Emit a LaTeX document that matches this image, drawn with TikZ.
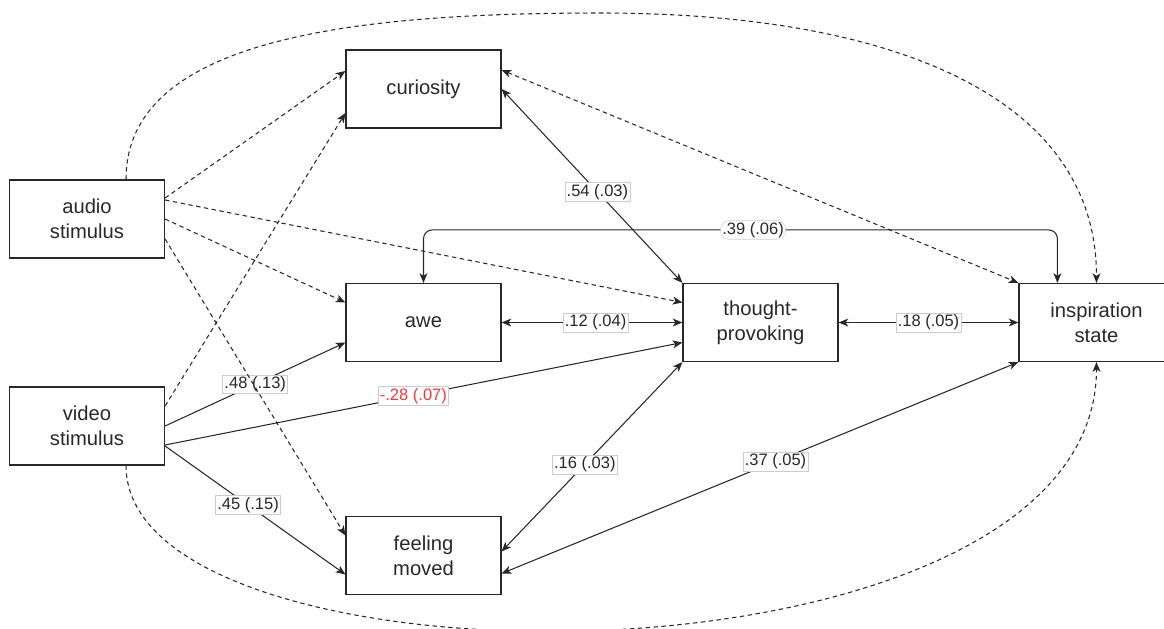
\documentclass[tikz,border=0pt]{standalone}
\usepackage{fontspec}
\setmainfont{Liberation Sans}
\usetikzlibrary{arrows.meta,calc}

\definecolor{ink}{RGB}{40,40,40}
\definecolor{negred}{RGB}{255,51,51}
\tikzstyle{var}=[draw=ink, line width=0.7pt, minimum width=3.1cm, minimum height=1.56cm, inner sep=0pt, align=center, text=ink, font=\fontsize{11.5}{14.2}\selectfont]
\tikzstyle{reg}=[draw=ink, line width=0.6pt, ->]
\tikzstyle{cov}=[draw=ink, line width=0.6pt, <->]
\tikzstyle{hint}=[dash pattern=on 2.5pt off 2pt]
\tikzstyle{coef}=[fill=white, draw=gray!40, line width=0.3pt, inner sep=1pt, text=ink, font=\fontsize{9.4}{11}\selectfont]
\tikzset{>={Stealth[length=5.5pt,width=4.5pt,inset=1.5pt]}}

\begin{document}
\begin{tikzpicture}[x=0.02cm,y=-0.02cm]
\useasboundingbox (0,0) rectangle (1164,629);

% variables
\node[var] (audio)   at (87,219)      {audio\\stimulus};
\node[var] (video)   at (87,426)      {video\\stimulus};
\node[var] (curio)   at (423.5,89)    {curiosity};
\node[var] (awe)     at (423.5,322.5) {awe};
\node[var] (moved)   at (423.5,555.5) {feeling\\moved};
\node[var] (thought) at (760.5,322.5) {thought-\\provoking};
\node[var] (insp)    at (1096.5,322.5) {inspiration\\state};

% estimated paths
\draw[reg] (video.east) -- node[coef,pos=0.5]{.48 (.13)} ($(awe.west)+(0,20)$);
\draw[reg] ($(video.east)+(0,19)$) -- node[coef,text=negred,pos=0.48]{-.28 (.07)} ($(thought.west)+(0,20)$);
\draw[reg] ($(video.east)+(0,20)$) -- node[coef,pos=0.46]{.45 (.15)} ($(moved.west)+(0,19)$);
\draw[cov] (curio.east) -- node[coef,pos=0.53]{.54 (.03)} (thought.north west);
\draw[cov] (awe.east) -- node[coef,pos=0.52]{.12 (.04)} (thought.west);
\draw[cov] (thought.east) -- node[coef]{.18 (.05)} (insp.west);
\draw[cov] ($(moved.east)+(0,-4)$) -- node[coef,pos=0.46]{.16 (.03)} (thought.south west);
\draw[cov] ($(moved.east)+(0,18)$) -- node[coef,pos=0.53]{.37 (.05)} (insp.south west);
\draw[cov,rounded corners=5] (awe.north) |- node[coef,pos=0.76]{.39 (.06)} ($(insp.north west)+(39,-53)$) -- ($(insp.north west)+(39,0)$);

% not significant
\draw[reg,hint] ($(audio.east)+(0,-21)$) -- ($(curio.west)+(0,-18)$);
\draw[reg,hint] ($(audio.east)+(0,-19)$) -- ($(thought.west)+(0,-20)$);
\draw[reg,hint] (audio.east) -- ($(awe.west)+(0,-20)$);
\draw[reg,hint] ($(audio.east)+(0,20)$) -- ($(moved.west)+(0,-20)$);
\draw[reg,hint] ($(video.east)+(0,-20)$) -- ($(curio.west)+(0,24)$);
\draw[cov,hint] ($(curio.east)+(0,-19)$) -- (insp.north west);
\draw[reg,hint] ($(audio.north)+(39,0)$) .. controls +(0,-140) and (350,13) .. (600,13) .. controls (900,13) and (1096.5,100) .. (insp.north);
\draw[reg,hint] ($(video.south)+(39,0)$) .. controls +(0,235) and +(0,339) .. (insp.south);
\end{tikzpicture}
\end{document}
